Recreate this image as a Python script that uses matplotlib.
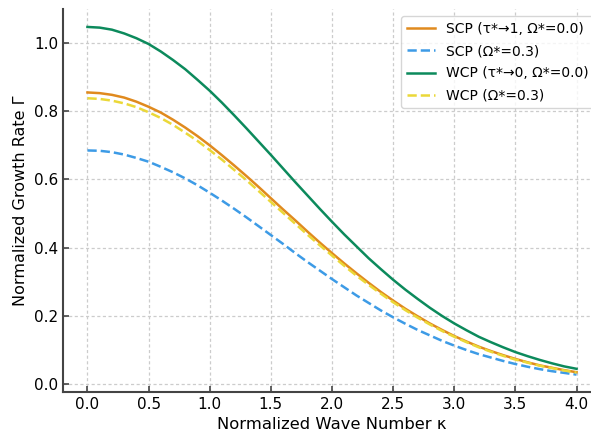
import numpy as np
import matplotlib.pyplot as plt

# data (step 0.1 in kappa)
kappa = [round(0.1 * i, 1) for i in range(41)]
scp_0 = [0.855, 0.853, 0.848, 0.840, 0.828, 0.813, 0.796, 0.775, 0.752, 0.727,
         0.700, 0.671, 0.641, 0.610, 0.578, 0.545, 0.512, 0.480, 0.447, 0.415,
         0.384, 0.354, 0.325, 0.297, 0.270, 0.245, 0.221, 0.199, 0.178, 0.159,
         0.141, 0.125, 0.110, 0.097, 0.085, 0.074, 0.064, 0.055, 0.048, 0.041, 0.035]
scp_3 = [0.685, 0.684, 0.680, 0.673, 0.663, 0.652, 0.637, 0.621, 0.603, 0.583,
         0.561, 0.538, 0.514, 0.489, 0.463, 0.437, 0.411, 0.384, 0.358, 0.333,
         0.308, 0.284, 0.260, 0.238, 0.216, 0.196, 0.177, 0.159, 0.143, 0.127,
         0.113, 0.100, 0.088, 0.078, 0.068, 0.059, 0.051, 0.044, 0.038, 0.033, 0.028]
wcp_0 = [1.047, 1.045, 1.039, 1.028, 1.014, 0.997, 0.975, 0.950, 0.923, 0.892,
         0.860, 0.825, 0.788, 0.750, 0.711, 0.672, 0.632, 0.592, 0.553, 0.514,
         0.476, 0.439, 0.404, 0.369, 0.337, 0.306, 0.277, 0.250, 0.224, 0.200,
         0.178, 0.158, 0.139, 0.123, 0.108, 0.094, 0.082, 0.071, 0.061, 0.052, 0.045]
wcp_3 = [0.838, 0.836, 0.831, 0.823, 0.812, 0.797, 0.780, 0.760, 0.737, 0.713,
         0.686, 0.658, 0.628, 0.598, 0.566, 0.534, 0.502, 0.470, 0.438, 0.407,
         0.377, 0.347, 0.318, 0.291, 0.265, 0.240, 0.217, 0.195, 0.175, 0.156,
         0.139, 0.123, 0.108, 0.095, 0.083, 0.072, 0.063, 0.054, 0.047, 0.040, 0.034]

fig = plt.figure(figsize=(5.91, 4.36), dpi=100)
# the original picture is cropped on the right, so the axes run past the edge
ax = fig.add_axes([0.1066, 0.1009, 0.9103, 0.878])

ax.plot(kappa, scp_0, color='#E08A1E', lw=1.8, label='SCP (τ*→1, Ω*=0.0)')
ax.plot(kappa, scp_3, color='#3D9BE6', lw=1.8, ls='--', label='SCP (Ω*=0.3)')
ax.plot(kappa, wcp_0, color='#0C8A5C', lw=1.8, label='WCP (τ*→0, Ω*=0.0)')
ax.plot(kappa, wcp_3, color='#EBD838', lw=1.8, ls='--', label='WCP (Ω*=0.3)')

ax.set_xlim(-0.2, 4.2)
ax.set_ylim(-0.023, 1.099)
ax.set_xticks(np.arange(0, 4.01, 0.5))
ax.set_yticks(np.arange(0, 1.01, 0.2))

ax.grid(True, ls=(0, (2.5, 2)), color='#CCCCCC', lw=0.9)
ax.spines['top'].set_visible(False)
ax.spines['right'].set_visible(False)
for s in ['left', 'bottom']:
    ax.spines[s].set_color('#444444')
    ax.spines[s].set_linewidth(1.5)
ax.tick_params(direction='in', labelsize=11, color='#444444', width=1.2, length=4)

ax.set_xlabel('Normalized Wave Number κ', fontsize=11.8)
ax.set_ylabel('Normalized Growth Rate Γ', fontsize=11.5)
ax.legend(loc='upper right', fontsize=10, labelspacing=0.6)

fig.savefig('out.png', dpi=100)
